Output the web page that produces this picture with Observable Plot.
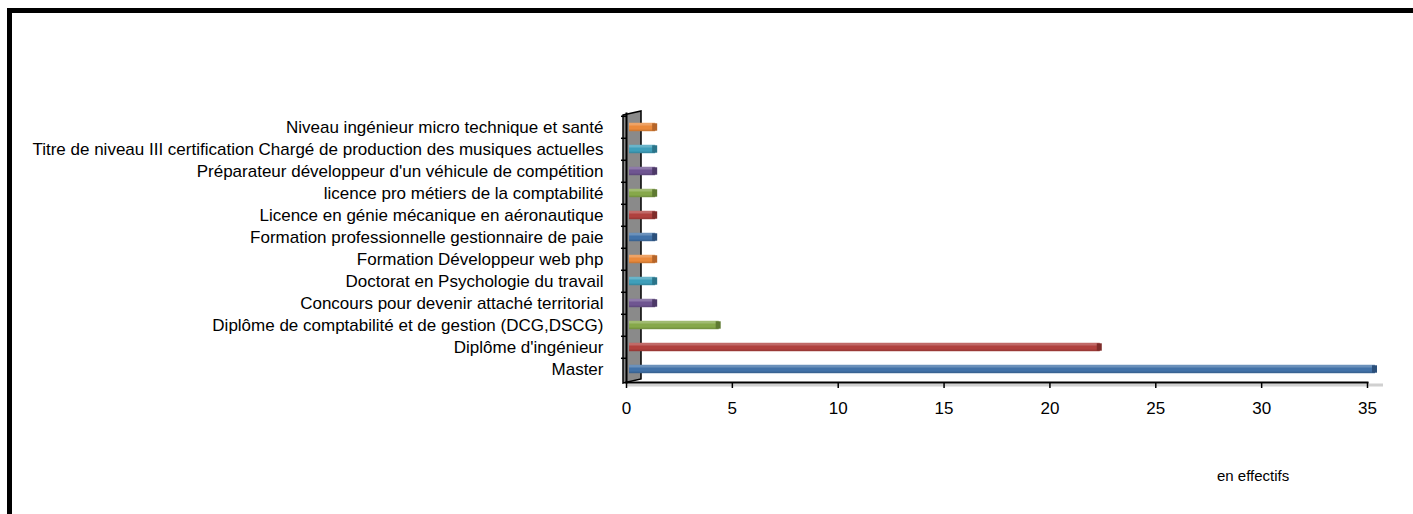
<!DOCTYPE html>
<html>
<head>
<meta charset="utf-8">
<script src="https://cdn.jsdelivr.net/npm/d3@7"></script>
<script src="https://cdn.jsdelivr.net/npm/@observablehq/plot@0.6"></script>
<style>
  html, body { margin: 0; padding: 0; background: #fff; overflow: hidden; }
  #wrap { position: relative; width: 1413px; height: 514px; }
  #frame { position: absolute; left: 7px; top: 8px; width: 1500px; height: 600px; border: 5px solid #000; box-sizing: border-box; }
  #chart { position: absolute; left: 0; top: 0; }
  #unit { position: absolute; left: 1217px; top: 467px; font-family: "Liberation Sans", Arial, sans-serif; font-size: 15px; color: #000; line-height: 17px; }
</style>
</head>
<body>
<div id="wrap">
  <div id="frame"></div>
  <div id="chart"></div>
  <div id="unit">en effectifs</div>
</div>
<script>
const categories = [
  "Master",
  "Diplôme d'ingénieur",
  "Diplôme de comptabilité et de gestion (DCG,DSCG)",
  "Concours pour devenir attaché territorial",
  "Doctorat en Psychologie du travail",
  "Formation Développeur web php",
  "Formation professionnelle gestionnaire de paie",
  "Licence en génie mécanique en aéronautique",
  "licence pro métiers de la comptabilité",
  "Préparateur développeur d'un véhicule de compétition",
  "Titre de niveau III certification Chargé de production des musiques actuelles",
  "Niveau ingénieur micro technique et santé"
];
const values = [35, 22, 4, 1, 1, 1, 1, 1, 1, 1, 1, 1];
const colors = ["#4272a8", "#b0413e", "#86a84a", "#6f5591", "#3f9fba", "#ea8a3c",
                "#4272a8", "#b0413e", "#86a84a", "#6f5591", "#3f9fba", "#ea8a3c"];
const capColors = ["#2b4f7a", "#7e2c2a", "#5f7a32", "#4d3a68", "#2b7489", "#b5652a",
                   "#2b4f7a", "#7e2c2a", "#5f7a32", "#4d3a68", "#2b7489", "#b5652a"];
const xTicks = [0, 5, 10, 15, 20, 25, 30, 35];

const data = categories.map((c, i) => ({category: c, value: values[i], color: colors[i], cap: capColors[i]}));

function wall(index, scales, values, dimensions) {
  const x0 = scales.x(0);
  const top = dimensions.marginTop;
  const bottom = dimensions.height - dimensions.marginBottom;
  const g = d3.create("svg:g");
  g.append("polygon")
    .attr("points", [[x0 - 3, top + 2], [x0 + 15, top - 2], [x0 + 15, bottom - 3], [x0 - 3, bottom + 1]].map(p => p.join(",")).join(" "))
    .attr("fill", "#8a8a8a")
    .attr("stroke", "#000")
    .attr("stroke-width", 1.5);
  g.append("line")
    .attr("x1", x0).attr("x2", scales.x(35) + 16)
    .attr("y1", bottom + 3).attr("y2", bottom + 3)
    .attr("stroke", "#d0d0d0").attr("stroke-width", 3);
  return g.node();
}

const step = (514 - 113 - 132) / categories.length;

const chart = Plot.plot({
  width: 1413,
  height: 514,
  marginLeft: 626,
  marginRight: 46,
  marginTop: 113,
  marginBottom: 132,
  style: {fontFamily: "Liberation Sans, Arial, sans-serif", fontSize: "17px", background: "transparent", color: "#000"},
  x: {domain: [0, 35]},
  y: {domain: categories.slice().reverse(), padding: 0},
  marks: [
    wall,
    Plot.barX(data, {y: "category", x1: 0, x2: "value", fill: d => d.color, insetLeft: 3, insetRight: -8, insetTop: 6.8, insetBottom: 6.8}),
    Plot.barX(data, {y: "category", x1: 0, x2: "value", fill: "#fff", fillOpacity: 0.22, insetLeft: 3, insetRight: -8, insetTop: 6.8, insetBottom: 12.5}),
    Plot.barX(data, {y: "category", x1: 0, x2: "value", fill: "#000", fillOpacity: 0.12, insetLeft: 3, insetRight: -8, insetTop: 13.6, insetBottom: 6.8}),
    Plot.barX(data, {y: "category", x1: "value", x2: "value", fill: d => d.cap, insetLeft: 5, insetRight: -10, insetTop: 7.3, insetBottom: 7.3}),
    Plot.ruleY(categories, {y: d => d, x1: 0, x2: 0, insetLeft: -5, dy: -step / 2, stroke: "#000", strokeWidth: 1.5}),
    Plot.frame({anchor: "left", stroke: "#000", strokeWidth: 2}),
    Plot.frame({anchor: "bottom", stroke: "#000", strokeWidth: 2}),
    Plot.axisX({ticks: xTicks, tickSize: 6, tickPadding: 13, fontSize: 17, stroke: "#000", strokeWidth: 1.5, label: null}),
    Plot.axisY({tickSize: 0, tickPadding: 23, fontSize: 17, label: null})
  ]
});
document.getElementById("chart").appendChild(chart);
</script>
</body>
</html>
